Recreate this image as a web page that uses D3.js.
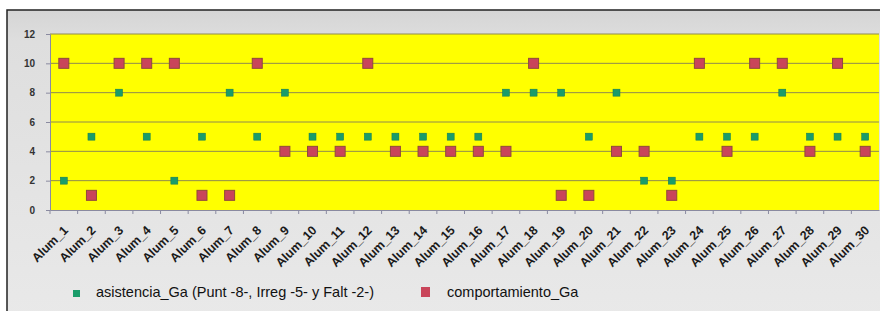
<!DOCTYPE html>
<html>
<head>
<meta charset="utf-8">
<script src="https://cdn.jsdelivr.net/npm/d3@7"></script>
<style>
  body { margin: 0; background: #fff; }
  svg text { font-family: "Liberation Sans", Arial, sans-serif; }
</style>
</head>
<body>
<div id="chart"></div>
<script>
// data
var alumnos = [];
for (var n = 1; n <= 30; n++) alumnos.push("Alum_" + n);

var asistencia = [2,5,8,5,2,5,8,5,8,5, 5,5,5,5,5,5,8,8,8,5, 8,2,2,5,5,5,8,5,5,5];
var comportamiento = [10,1,10,10,10,1,1,10,4,4, 4,10,4,4,4,4,4,10,1,1, 4,4,1,10,4,10,10,4,10,4];
var yTicks = [0,2,4,6,8,10,12];
var serieNames = ["asistencia_Ga (Punt -8-, Irreg -5- y Falt -2-)", "comportamiento_Ga"];

var W = 880, H = 311;
var svg = d3.select("#chart").append("svg").attr("width", W).attr("height", H);

// chart frame
var defs = svg.append("defs");
var grad = defs.append("linearGradient").attr("id", "bg").attr("x1", 0).attr("y1", 0).attr("x2", 0).attr("y2", 1);
grad.append("stop").attr("offset", "0").attr("stop-color", "#d5d5d5");
grad.append("stop").attr("offset", "0.1").attr("stop-color", "#dedede");
grad.append("stop").attr("offset", "1").attr("stop-color", "#e9e9e9");

svg.append("rect").attr("x", 7).attr("y", 10).attr("width", W).attr("height", H)
  .attr("fill", "url(#bg)").attr("stroke", "#222").attr("stroke-width", 1.5);

var pLeft = 50, pRight = 879, pTop = 34, pBottom = 210;

var x = d3.scaleBand().domain(alumnos).range([pLeft, pRight]);
var y = d3.scaleLinear().domain([0, 12]).range([pBottom, pTop]);

// plot area
svg.append("rect").attr("x", pLeft).attr("y", pTop).attr("width", pRight - pLeft).attr("height", pBottom - pTop)
  .attr("fill", "#ffff00");

// gridlines
svg.selectAll(".grid").data(yTicks.filter(function(d){ return d > 0; })).enter().append("line")
  .attr("x1", pLeft).attr("x2", pRight)
  .attr("y1", function(d){ return y(d); }).attr("y2", function(d){ return y(d); })
  .attr("stroke", "#8f8a50").attr("stroke-width", 1);

// y axis
var yAxis = svg.append("g").attr("transform", "translate(" + pLeft + ",0)")
  .call(d3.axisLeft(y).tickValues(yTicks).tickSize(4).tickPadding(11));
yAxis.select(".domain").attr("stroke", "#8a8aa0");
yAxis.selectAll(".tick line").attr("stroke", "#8a8aa0");
yAxis.selectAll("text").attr("font-size", 10).attr("font-weight", "bold").attr("fill", "#333");

// x axis
var xAxis = svg.append("g").attr("transform", "translate(0," + pBottom + ")")
  .call(d3.axisBottom(x).tickSize(0).tickPadding(0));
xAxis.select(".domain").attr("stroke", "#8a8aa0");
xAxis.selectAll(".tick text")
  .attr("font-size", 12.5).attr("font-weight", "bold").attr("fill", "#1a1a1a")
  .attr("text-anchor", "end").attr("y", 0).attr("dy", 0)
  .attr("transform", "translate(5,21) rotate(-45)");

// category boundary ticks
svg.selectAll(".xt").data(alumnos).enter().append("line")
  .attr("x1", function(d){ return x(d); }).attr("x2", function(d){ return x(d); })
  .attr("y1", pBottom).attr("y2", pBottom + 4)
  .attr("stroke", "#8a8aa0");

// series markers
var cx = function(d, i){ return x(alumnos[i]) + x.bandwidth() / 2; };

svg.selectAll(".asis").data(asistencia).enter().append("rect")
  .attr("x", function(d, i){ return cx(d, i) - 3.5; })
  .attr("y", function(d){ return y(d) - 3.5; })
  .attr("width", 7).attr("height", 7)
  .attr("fill", "#1a9c6a").attr("stroke", "#137a52").attr("stroke-width", 0.5);

svg.selectAll(".comp").data(comportamiento).enter().append("rect")
  .attr("x", function(d, i){ return cx(d, i) - 5; })
  .attr("y", function(d){ return y(d) - 5; })
  .attr("width", 10).attr("height", 10)
  .attr("fill", "#c9455a").attr("stroke", "#8f4a3a").attr("stroke-width", 1);

// legend
var lg = svg.append("g");
lg.append("rect").attr("x", 73).attr("y", 290).attr("width", 7).attr("height", 7).attr("fill", "#1a9c6a");
lg.append("text").attr("x", 96).attr("y", 297).attr("font-size", 14.5).attr("fill", "#111").text(serieNames[0]);
lg.append("rect").attr("x", 421).attr("y", 287).attr("width", 9).attr("height", 10).attr("fill", "#c9455a");
lg.append("text").attr("x", 447).attr("y", 297).attr("font-size", 14.5).attr("fill", "#111").text(serieNames[1]);
</script>
</body>
</html>
